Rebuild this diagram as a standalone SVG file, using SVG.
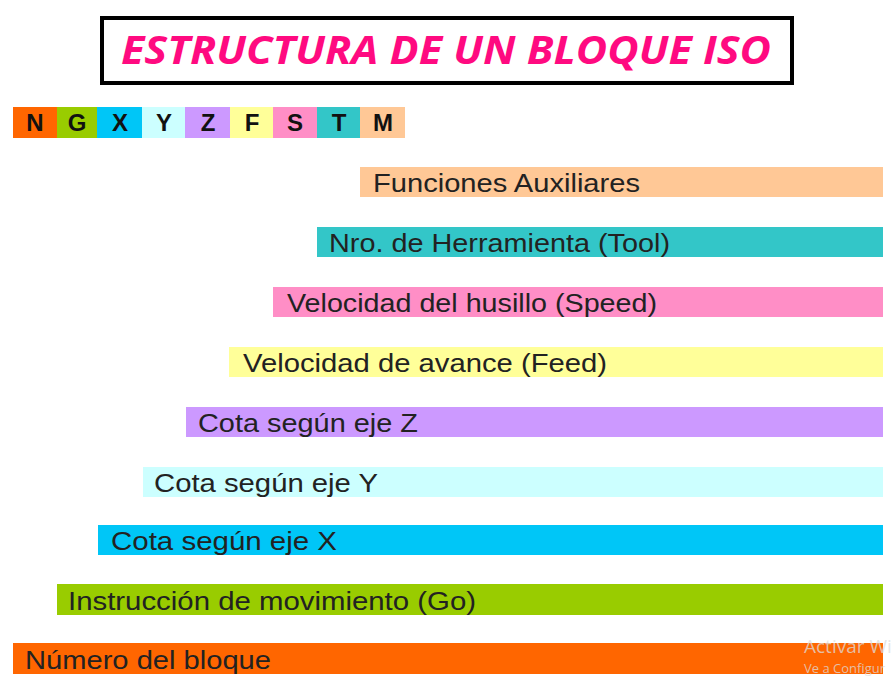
<svg xmlns="http://www.w3.org/2000/svg" width="892" height="684" viewBox="0 0 892 684">
<style>
.lbl{font-family:"Liberation Sans",Arial,sans-serif;font-size:25px;fill:#222;}
.key{font-family:"Liberation Sans",Arial,sans-serif;font-size:24px;font-weight:bold;fill:#111;text-anchor:middle;}
.title{font-family:"Open Sans","Noto Sans",sans-serif;font-size:39px;font-weight:bold;font-style:italic;fill:#FF0A80;}
.wm{font-family:"Open Sans","Noto Sans",sans-serif;fill:#ddd;fill-opacity:0.75;}
.cN{fill:#FF6600}.cG{fill:#99CC00}.cX{fill:#00C6F7}.cY{fill:#CCFFFF}.cZ{fill:#CC99FF}
.cF{fill:#FFFF99}.cS{fill:#FF8EC6}.cT{fill:#33C6C8}.cM{fill:#FFC896}
</style>
<rect width="892" height="684" fill="#fff"/>
<g id="title">
<rect x="102" y="18" width="690" height="65" fill="#fff" stroke="#000" stroke-width="4"/>
<text class="title" x="121" y="64" textLength="650" lengthAdjust="spacingAndGlyphs">ESTRUCTURA DE UN BLOQUE ISO</text>
</g>
<g id="legend">
<rect class="cN" x="13" y="107" width="44" height="31"/>
<rect class="cG" x="57" y="107" width="40" height="31"/>
<rect class="cX" x="97" y="107" width="45" height="31"/>
<rect class="cY" x="142" y="107" width="43" height="31"/>
<rect class="cZ" x="185" y="107" width="45" height="31"/>
<rect class="cF" x="230" y="107" width="43" height="31"/>
<rect class="cS" x="273" y="107" width="44" height="31"/>
<rect class="cT" x="317" y="107" width="43" height="31"/>
<rect class="cM" x="360" y="107" width="45" height="31"/>
<text class="key" x="35" y="131">N</text>
<text class="key" x="77" y="131">G</text>
<text class="key" x="120" y="131">X</text>
<text class="key" x="164" y="131">Y</text>
<text class="key" x="208" y="131">Z</text>
<text class="key" x="252" y="131">F</text>
<text class="key" x="295" y="131">S</text>
<text class="key" x="339" y="131">T</text>
<text class="key" x="383" y="131">M</text>
</g>
<g id="bar-M"><rect class="cM" x="360" y="167" width="523" height="30"/><text class="lbl" x="373" y="192" textLength="267" lengthAdjust="spacingAndGlyphs">Funciones Auxiliares</text></g>
<g id="bar-T"><rect class="cT" x="317" y="227" width="566" height="30"/><text class="lbl" x="329" y="252" textLength="341" lengthAdjust="spacingAndGlyphs">Nro. de Herramienta (Tool)</text></g>
<g id="bar-S"><rect class="cS" x="273" y="287" width="610" height="30"/><text class="lbl" x="287" y="312" textLength="370" lengthAdjust="spacingAndGlyphs">Velocidad del husillo (Speed)</text></g>
<g id="bar-F"><rect class="cF" x="229" y="347" width="654" height="30"/><text class="lbl" x="243" y="372" textLength="364" lengthAdjust="spacingAndGlyphs">Velocidad de avance (Feed)</text></g>
<g id="bar-Z"><rect class="cZ" x="186" y="407" width="697" height="30"/><text class="lbl" x="198" y="432" textLength="220" lengthAdjust="spacingAndGlyphs">Cota según eje Z</text></g>
<g id="bar-Y"><rect class="cY" x="143" y="467" width="740" height="30"/><text class="lbl" x="154" y="492" textLength="224" lengthAdjust="spacingAndGlyphs">Cota según eje Y</text></g>
<g id="bar-X"><rect class="cX" x="98" y="525" width="785" height="30"/><text class="lbl" x="111" y="550" textLength="226" lengthAdjust="spacingAndGlyphs">Cota según eje X</text></g>
<g id="bar-G"><rect class="cG" x="57" y="584" width="826" height="31"/><text class="lbl" x="68" y="610" textLength="408" lengthAdjust="spacingAndGlyphs">Instrucción de movimiento (Go)</text></g>
<g id="bar-N"><rect class="cN" x="13" y="643" width="870" height="31"/><text class="lbl" x="25" y="669" textLength="246" lengthAdjust="spacingAndGlyphs">Número del bloque</text></g>
<g id="watermark">
<text class="wm" x="804" y="653" font-size="19">Activar Wi</text>
<text class="wm" x="804" y="673" font-size="13">Ve a Configur</text>
</g>
</svg>
